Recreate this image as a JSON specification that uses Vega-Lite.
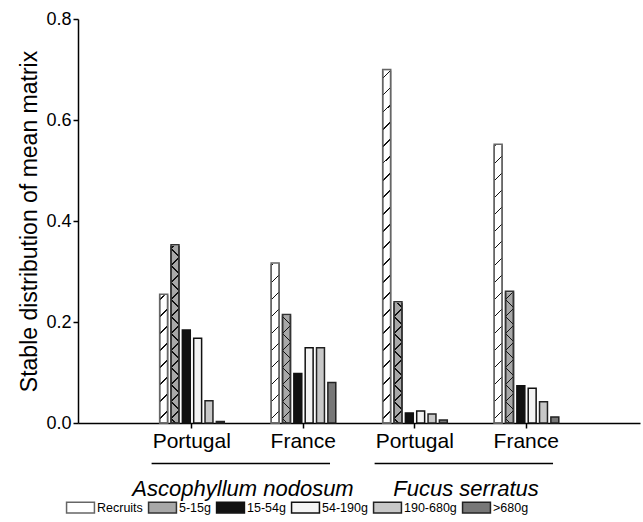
{
  "$schema": "https://vega.github.io/schema/vega-lite/v6.json",
  "width": 562,
  "height": 404,
  "autosize": "none",
  "padding": {"left": 78, "top": 19, "right": 3, "bottom": 99},
  "config": {"view": {"stroke": null}, "font": "Liberation Sans"},
  "datasets": {
    "bars": [
      {"grp": "A|Portugal", "cls": "Recruits", "value": 0.255},
      {"grp": "A|Portugal", "cls": "5-15g", "value": 0.353},
      {"grp": "A|Portugal", "cls": "15-54g", "value": 0.184},
      {"grp": "A|Portugal", "cls": "54-190g", "value": 0.168},
      {"grp": "A|Portugal", "cls": "190-680g", "value": 0.044},
      {"grp": "A|Portugal", "cls": ">680g", "value": 0.003},
      {"grp": "A|France", "cls": "Recruits", "value": 0.317},
      {"grp": "A|France", "cls": "5-15g", "value": 0.215},
      {"grp": "A|France", "cls": "15-54g", "value": 0.098},
      {"grp": "A|France", "cls": "54-190g", "value": 0.149},
      {"grp": "A|France", "cls": "190-680g", "value": 0.149},
      {"grp": "A|France", "cls": ">680g", "value": 0.080},
      {"grp": "F|Portugal", "cls": "Recruits", "value": 0.700},
      {"grp": "F|Portugal", "cls": "5-15g", "value": 0.240},
      {"grp": "F|Portugal", "cls": "15-54g", "value": 0.020},
      {"grp": "F|Portugal", "cls": "54-190g", "value": 0.024},
      {"grp": "F|Portugal", "cls": "190-680g", "value": 0.018},
      {"grp": "F|Portugal", "cls": ">680g", "value": 0.006},
      {"grp": "F|France", "cls": "Recruits", "value": 0.552},
      {"grp": "F|France", "cls": "5-15g", "value": 0.261},
      {"grp": "F|France", "cls": "15-54g", "value": 0.074},
      {"grp": "F|France", "cls": "54-190g", "value": 0.069},
      {"grp": "F|France", "cls": "190-680g", "value": 0.042},
      {"grp": "F|France", "cls": ">680g", "value": 0.012}
    ],
    "species": [
      {"sp": "Ascophyllum nodosum", "g1": "A|Portugal", "g2": "A|France"},
      {"sp": "Fucus serratus", "g1": "F|Portugal", "g2": "F|France"}
    ]
  },
  "encoding": {
    "x": {
      "field": "grp", "type": "nominal",
      "scale": {"domain": ["A|Portugal", "A|France", "F|Portugal", "F|France"], "paddingInner": 0, "paddingOuter": 0.52},
      "axis": {
        "title": null, "labelExpr": "split(datum.label, '|')[1]", "labelAngle": 0,
        "labelFontSize": 21, "labelColor": "black", "labelPadding": 2,
        "domainColor": "black", "domainWidth": 1.5, "tickColor": "black", "tickWidth": 1.5, "tickSize": 5
      }
    },
    "xOffset": {
      "field": "cls", "type": "nominal",
      "sort": ["Recruits", "5-15g", "15-54g", "54-190g", "190-680g", ">680g"],
      "scale": {"range": [22, 90], "paddingInner": 0.3, "paddingOuter": 0.15}
    }
  },
  "layer": [
    {
      "data": {"name": "bars"},
      "mark": {"type": "bar", "strokeWidth": 1.5},
      "encoding": {
        "y": {
          "field": "value", "type": "quantitative",
          "scale": {"domain": [0, 0.8], "nice": false},
          "axis": {
            "title": "Stable distribution of mean matrix", "titleFontSize": 23, "titleFontWeight": "normal", "titleColor": "black",
            "titlePadding": 4,
            "values": [0, 0.2, 0.4, 0.6, 0.8], "format": ".1f", "grid": false,
            "labelFontSize": 18, "labelColor": "black", "labelPadding": 2,
            "domainColor": "black", "domainWidth": 1.5, "tickColor": "black", "tickWidth": 1.5, "tickSize": 5
          }
        },
        "fill": {
          "field": "cls", "type": "nominal",
          "scale": {"domain": ["Recruits", "5-15g", "15-54g", "54-190g", "190-680g", ">680g"],
                    "range": ["#ffffff", "#a8a8a8", "#111111", "#f4f4f4", "#c8c8c8", "#777777"]},
          "legend": {
            "title": null, "orient": "none", "direction": "horizontal", "legendX": -9, "legendY": 477,
            "symbolType": "M-1.3,-0.5H1.3V0.5H-1.3Z", "symbolSize": 460, "symbolStrokeWidth": 1.5,
            "labelFontSize": 12.5, "labelColor": "black", "labelOffset": 5, "columnPadding": 2
          }
        },
        "stroke": {
          "field": "cls", "type": "nominal",
          "scale": {"domain": ["Recruits", "5-15g", "15-54g", "54-190g", "190-680g", ">680g"],
                    "range": ["#666666", "#333333", "#111111", "#111111", "#222222", "#222222"]},
          "legend": null
        }
      }
    },
    {
      "data": {"name": "bars"},
      "transform": [{"filter": "datum.cls == 'Recruits' || datum.cls == '5-15g'"}],
      "mark": {
        "type": "bar", "strokeWidth": 0,
        "fill": {"gradient": "linear", "x1": 0, "y1": 0, "x2": 0.0196, "y2": 1, "stops": [
          {"offset": 0.0192, "color": "rgba(0,0,0,0)"}, {"offset": 0.0192, "color": "#111111"}, {"offset": 0.0229, "color": "#111111"}, {"offset": 0.0229, "color": "rgba(0,0,0,0)"},
          {"offset": 0.0613, "color": "rgba(0,0,0,0)"}, {"offset": 0.0613, "color": "#111111"}, {"offset": 0.0650, "color": "#111111"}, {"offset": 0.0650, "color": "rgba(0,0,0,0)"},
          {"offset": 0.1033, "color": "rgba(0,0,0,0)"}, {"offset": 0.1033, "color": "#111111"}, {"offset": 0.1071, "color": "#111111"}, {"offset": 0.1071, "color": "rgba(0,0,0,0)"},
          {"offset": 0.1454, "color": "rgba(0,0,0,0)"}, {"offset": 0.1454, "color": "#111111"}, {"offset": 0.1491, "color": "#111111"}, {"offset": 0.1491, "color": "rgba(0,0,0,0)"},
          {"offset": 0.1875, "color": "rgba(0,0,0,0)"}, {"offset": 0.1875, "color": "#111111"}, {"offset": 0.1912, "color": "#111111"}, {"offset": 0.1912, "color": "rgba(0,0,0,0)"},
          {"offset": 0.2296, "color": "rgba(0,0,0,0)"}, {"offset": 0.2296, "color": "#111111"}, {"offset": 0.2333, "color": "#111111"}, {"offset": 0.2333, "color": "rgba(0,0,0,0)"},
          {"offset": 0.2717, "color": "rgba(0,0,0,0)"}, {"offset": 0.2717, "color": "#111111"}, {"offset": 0.2754, "color": "#111111"}, {"offset": 0.2754, "color": "rgba(0,0,0,0)"},
          {"offset": 0.3137, "color": "rgba(0,0,0,0)"}, {"offset": 0.3137, "color": "#111111"}, {"offset": 0.3175, "color": "#111111"}, {"offset": 0.3175, "color": "rgba(0,0,0,0)"},
          {"offset": 0.3558, "color": "rgba(0,0,0,0)"}, {"offset": 0.3558, "color": "#111111"}, {"offset": 0.3595, "color": "#111111"}, {"offset": 0.3595, "color": "rgba(0,0,0,0)"},
          {"offset": 0.3979, "color": "rgba(0,0,0,0)"}, {"offset": 0.3979, "color": "#111111"}, {"offset": 0.4016, "color": "#111111"}, {"offset": 0.4016, "color": "rgba(0,0,0,0)"},
          {"offset": 0.4400, "color": "rgba(0,0,0,0)"}, {"offset": 0.4400, "color": "#111111"}, {"offset": 0.4437, "color": "#111111"}, {"offset": 0.4437, "color": "rgba(0,0,0,0)"},
          {"offset": 0.4821, "color": "rgba(0,0,0,0)"}, {"offset": 0.4821, "color": "#111111"}, {"offset": 0.4858, "color": "#111111"}, {"offset": 0.4858, "color": "rgba(0,0,0,0)"},
          {"offset": 0.5241, "color": "rgba(0,0,0,0)"}, {"offset": 0.5241, "color": "#111111"}, {"offset": 0.5279, "color": "#111111"}, {"offset": 0.5279, "color": "rgba(0,0,0,0)"},
          {"offset": 0.5662, "color": "rgba(0,0,0,0)"}, {"offset": 0.5662, "color": "#111111"}, {"offset": 0.5699, "color": "#111111"}, {"offset": 0.5699, "color": "rgba(0,0,0,0)"},
          {"offset": 0.6083, "color": "rgba(0,0,0,0)"}, {"offset": 0.6083, "color": "#111111"}, {"offset": 0.6120, "color": "#111111"}, {"offset": 0.6120, "color": "rgba(0,0,0,0)"},
          {"offset": 0.6504, "color": "rgba(0,0,0,0)"}, {"offset": 0.6504, "color": "#111111"}, {"offset": 0.6541, "color": "#111111"}, {"offset": 0.6541, "color": "rgba(0,0,0,0)"},
          {"offset": 0.6925, "color": "rgba(0,0,0,0)"}, {"offset": 0.6925, "color": "#111111"}, {"offset": 0.6962, "color": "#111111"}, {"offset": 0.6962, "color": "rgba(0,0,0,0)"},
          {"offset": 0.7345, "color": "rgba(0,0,0,0)"}, {"offset": 0.7345, "color": "#111111"}, {"offset": 0.7382, "color": "#111111"}, {"offset": 0.7382, "color": "rgba(0,0,0,0)"},
          {"offset": 0.7766, "color": "rgba(0,0,0,0)"}, {"offset": 0.7766, "color": "#111111"}, {"offset": 0.7803, "color": "#111111"}, {"offset": 0.7803, "color": "rgba(0,0,0,0)"},
          {"offset": 0.8187, "color": "rgba(0,0,0,0)"}, {"offset": 0.8187, "color": "#111111"}, {"offset": 0.8224, "color": "#111111"}, {"offset": 0.8224, "color": "rgba(0,0,0,0)"},
          {"offset": 0.8608, "color": "rgba(0,0,0,0)"}, {"offset": 0.8608, "color": "#111111"}, {"offset": 0.8645, "color": "#111111"}, {"offset": 0.8645, "color": "rgba(0,0,0,0)"},
          {"offset": 0.9029, "color": "rgba(0,0,0,0)"}, {"offset": 0.9029, "color": "#111111"}, {"offset": 0.9066, "color": "#111111"}, {"offset": 0.9066, "color": "rgba(0,0,0,0)"},
          {"offset": 0.9449, "color": "rgba(0,0,0,0)"}, {"offset": 0.9449, "color": "#111111"}, {"offset": 0.9486, "color": "#111111"}, {"offset": 0.9486, "color": "rgba(0,0,0,0)"},
          {"offset": 0.9870, "color": "rgba(0,0,0,0)"}, {"offset": 0.9870, "color": "#111111"}, {"offset": 0.9907, "color": "#111111"}, {"offset": 0.9907, "color": "rgba(0,0,0,0)"}
        ]}
      },
      "encoding": {
        "y": {"datum": 0, "type": "quantitative"},
        "y2": {"datum": 0.8}
      }
    },
    {
      "data": {"name": "bars"},
      "transform": [{"filter": "datum.cls == '5-15g'"}],
      "mark": {
        "type": "bar", "strokeWidth": 0,
        "fill": {"gradient": "linear", "x1": 0.0196, "y1": 0, "x2": 0, "y2": 1, "stops": [
          {"offset": 0.0192, "color": "rgba(0,0,0,0)"}, {"offset": 0.0192, "color": "#111111"}, {"offset": 0.0229, "color": "#111111"}, {"offset": 0.0229, "color": "rgba(0,0,0,0)"},
          {"offset": 0.0613, "color": "rgba(0,0,0,0)"}, {"offset": 0.0613, "color": "#111111"}, {"offset": 0.0650, "color": "#111111"}, {"offset": 0.0650, "color": "rgba(0,0,0,0)"},
          {"offset": 0.1033, "color": "rgba(0,0,0,0)"}, {"offset": 0.1033, "color": "#111111"}, {"offset": 0.1071, "color": "#111111"}, {"offset": 0.1071, "color": "rgba(0,0,0,0)"},
          {"offset": 0.1454, "color": "rgba(0,0,0,0)"}, {"offset": 0.1454, "color": "#111111"}, {"offset": 0.1491, "color": "#111111"}, {"offset": 0.1491, "color": "rgba(0,0,0,0)"},
          {"offset": 0.1875, "color": "rgba(0,0,0,0)"}, {"offset": 0.1875, "color": "#111111"}, {"offset": 0.1912, "color": "#111111"}, {"offset": 0.1912, "color": "rgba(0,0,0,0)"},
          {"offset": 0.2296, "color": "rgba(0,0,0,0)"}, {"offset": 0.2296, "color": "#111111"}, {"offset": 0.2333, "color": "#111111"}, {"offset": 0.2333, "color": "rgba(0,0,0,0)"},
          {"offset": 0.2717, "color": "rgba(0,0,0,0)"}, {"offset": 0.2717, "color": "#111111"}, {"offset": 0.2754, "color": "#111111"}, {"offset": 0.2754, "color": "rgba(0,0,0,0)"},
          {"offset": 0.3137, "color": "rgba(0,0,0,0)"}, {"offset": 0.3137, "color": "#111111"}, {"offset": 0.3175, "color": "#111111"}, {"offset": 0.3175, "color": "rgba(0,0,0,0)"},
          {"offset": 0.3558, "color": "rgba(0,0,0,0)"}, {"offset": 0.3558, "color": "#111111"}, {"offset": 0.3595, "color": "#111111"}, {"offset": 0.3595, "color": "rgba(0,0,0,0)"},
          {"offset": 0.3979, "color": "rgba(0,0,0,0)"}, {"offset": 0.3979, "color": "#111111"}, {"offset": 0.4016, "color": "#111111"}, {"offset": 0.4016, "color": "rgba(0,0,0,0)"},
          {"offset": 0.4400, "color": "rgba(0,0,0,0)"}, {"offset": 0.4400, "color": "#111111"}, {"offset": 0.4437, "color": "#111111"}, {"offset": 0.4437, "color": "rgba(0,0,0,0)"},
          {"offset": 0.4821, "color": "rgba(0,0,0,0)"}, {"offset": 0.4821, "color": "#111111"}, {"offset": 0.4858, "color": "#111111"}, {"offset": 0.4858, "color": "rgba(0,0,0,0)"},
          {"offset": 0.5241, "color": "rgba(0,0,0,0)"}, {"offset": 0.5241, "color": "#111111"}, {"offset": 0.5279, "color": "#111111"}, {"offset": 0.5279, "color": "rgba(0,0,0,0)"},
          {"offset": 0.5662, "color": "rgba(0,0,0,0)"}, {"offset": 0.5662, "color": "#111111"}, {"offset": 0.5699, "color": "#111111"}, {"offset": 0.5699, "color": "rgba(0,0,0,0)"},
          {"offset": 0.6083, "color": "rgba(0,0,0,0)"}, {"offset": 0.6083, "color": "#111111"}, {"offset": 0.6120, "color": "#111111"}, {"offset": 0.6120, "color": "rgba(0,0,0,0)"},
          {"offset": 0.6504, "color": "rgba(0,0,0,0)"}, {"offset": 0.6504, "color": "#111111"}, {"offset": 0.6541, "color": "#111111"}, {"offset": 0.6541, "color": "rgba(0,0,0,0)"},
          {"offset": 0.6925, "color": "rgba(0,0,0,0)"}, {"offset": 0.6925, "color": "#111111"}, {"offset": 0.6962, "color": "#111111"}, {"offset": 0.6962, "color": "rgba(0,0,0,0)"},
          {"offset": 0.7345, "color": "rgba(0,0,0,0)"}, {"offset": 0.7345, "color": "#111111"}, {"offset": 0.7382, "color": "#111111"}, {"offset": 0.7382, "color": "rgba(0,0,0,0)"},
          {"offset": 0.7766, "color": "rgba(0,0,0,0)"}, {"offset": 0.7766, "color": "#111111"}, {"offset": 0.7803, "color": "#111111"}, {"offset": 0.7803, "color": "rgba(0,0,0,0)"},
          {"offset": 0.8187, "color": "rgba(0,0,0,0)"}, {"offset": 0.8187, "color": "#111111"}, {"offset": 0.8224, "color": "#111111"}, {"offset": 0.8224, "color": "rgba(0,0,0,0)"},
          {"offset": 0.8608, "color": "rgba(0,0,0,0)"}, {"offset": 0.8608, "color": "#111111"}, {"offset": 0.8645, "color": "#111111"}, {"offset": 0.8645, "color": "rgba(0,0,0,0)"},
          {"offset": 0.9029, "color": "rgba(0,0,0,0)"}, {"offset": 0.9029, "color": "#111111"}, {"offset": 0.9066, "color": "#111111"}, {"offset": 0.9066, "color": "rgba(0,0,0,0)"},
          {"offset": 0.9449, "color": "rgba(0,0,0,0)"}, {"offset": 0.9449, "color": "#111111"}, {"offset": 0.9486, "color": "#111111"}, {"offset": 0.9486, "color": "rgba(0,0,0,0)"},
          {"offset": 0.9870, "color": "rgba(0,0,0,0)"}, {"offset": 0.9870, "color": "#111111"}, {"offset": 0.9907, "color": "#111111"}, {"offset": 0.9907, "color": "rgba(0,0,0,0)"}
        ]}
      },
      "encoding": {
        "y": {"datum": 0, "type": "quantitative"},
        "y2": {"datum": 0.8}
      }
    },
    {
      "data": {"name": "bars"},
      "transform": [{"filter": "datum.cls == 'Recruits' || datum.cls == '5-15g'"}],
      "mark": {"type": "bar", "fill": "white", "stroke": "white", "strokeWidth": 2},
      "encoding": {
        "y": {"field": "value", "type": "quantitative"},
        "y2": {"datum": 0.8}
      }
    },
    {
      "data": {"name": "bars"},
      "transform": [{"filter": "datum.cls == 'Recruits' || datum.cls == '5-15g'"}],
      "mark": {"type": "bar", "fillOpacity": 0, "strokeWidth": 1.5},
      "encoding": {
        "y": {"field": "value", "type": "quantitative"},
        "stroke": {"field": "cls", "type": "nominal", "legend": null}
      }
    },
    {
      "data": {"name": "species"},
      "mark": {"type": "rule", "color": "black", "strokeWidth": 1.5},
      "encoding": {
        "x": {"field": "g1", "type": "nominal", "bandPosition": 0.14},
        "x2": {"field": "g2", "bandPosition": 0.74},
        "xOffset": null,
        "y": {"datum": -0.08}
      }
    },
    {
      "data": {"name": "species"},
      "mark": {"type": "text", "fontSize": 22, "fontStyle": "italic", "align": "center", "baseline": "middle", "color": "black"},
      "encoding": {
        "x": {"field": "g1", "type": "nominal", "bandPosition": 0.96},
        "xOffset": null,
        "y": {"datum": -0.13},
        "text": {"field": "sp"}
      }
    }
  ]
}
